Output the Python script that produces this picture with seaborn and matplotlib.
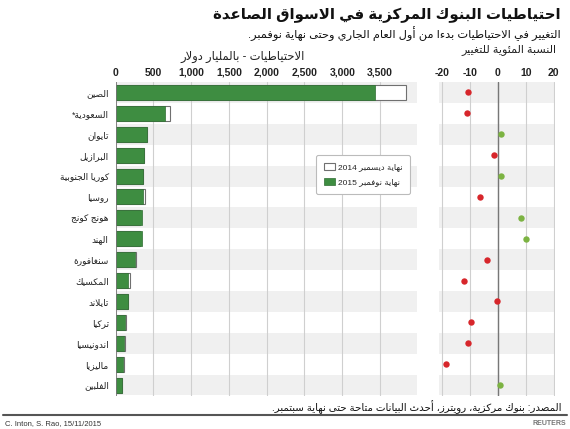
import re
import matplotlib
matplotlib.use('Agg')
import matplotlib.pyplot as plt
from matplotlib.lines import Line2D
import seaborn as sns
import pandas as pd

# ---------------- data ----------------
countries = ['الصين', 'السعودية*', 'تايوان', 'البرازيل', 'كوريا الجنوبية', 'روسيا',
             'هونج كونج', 'الهند', 'سنغافورة', 'المكسيك', 'تايلاند', 'تركيا',
             'اندونيسيا', 'ماليزيا', 'الفلبين']
reserves_2014 = [3840, 725, 414, 377, 361, 390, 323, 320, 268, 191, 158, 138, 121, 115, 83]
reserves_2015 = [3430, 648, 420, 372, 366, 365, 350, 353, 258, 168, 157, 125, 108, 94, 84]
pct_change = [-10.6, -11.0, 1.3, -1.4, 1.3, -6.3, 8.2, 10.1, -3.9, -11.9, -0.4, -9.6, -10.5, -18.6, 0.8]
bar_ticks = [0, 500, 1000, 1500, 2000, 2500, 3000, 3500]
pct_ticks = [-20, -10, 0, 10, 20]

title = 'احتياطيات البنوك المركزية في الاسواق الصاعدة'
subtitle = 'التغيير في الاحتياطيات بدءا من أول العام الجاري وحتى نهاية نوفمبر.'
left_label = 'الاحتياطيات - بالمليار دولار'
right_label = 'النسبة المئوية للتغيير'
legend_2014 = 'نهاية ديسمبر 2014'
legend_2015 = 'نهاية نوفمبر 2015'
source = 'المصدر: بنوك مركزية، رويترز، أحدث البيانات متاحة حتى نهاية سبتمبر.'
credit = 'C. Inton, S. Rao, 15/11/2015'

# ------------- Arabic shaping for display -------------
DUAL = {'ئ': 0xFE89, 'ب': 0xFE8F, 'ت': 0xFE95, 'ث': 0xFE99, 'ج': 0xFE9D, 'ح': 0xFEA1,
        'خ': 0xFEA5, 'س': 0xFEB1, 'ش': 0xFEB5, 'ص': 0xFEB9, 'ض': 0xFEBD, 'ط': 0xFEC1,
        'ظ': 0xFEC5, 'ع': 0xFEC9, 'غ': 0xFECD, 'ف': 0xFED1, 'ق': 0xFED5, 'ك': 0xFED9,
        'ل': 0xFEDD, 'م': 0xFEE1, 'ن': 0xFEE5, 'ه': 0xFEE9, 'ي': 0xFEF1}
RIGHT = {'آ': 0xFE81, 'أ': 0xFE83, 'ؤ': 0xFE85, 'إ': 0xFE87, 'ا': 0xFE8D, 'ة': 0xFE93,
         'د': 0xFEA9, 'ذ': 0xFEAB, 'ر': 0xFEAD, 'ز': 0xFEAF, 'و': 0xFEED, 'ى': 0xFEEF}
LAM_ALEF = {'آ': 0xFEF5, 'أ': 0xFEF7, 'إ': 0xFEF9, 'ا': 0xFEFB}


def ar(text):
    units = []
    i = 0
    while i < len(text):
        c = text[i]
        if c == 'ل' and i + 1 < len(text) and text[i + 1] in LAM_ALEF:
            units.append(('LA', text[i + 1]))
            i += 2
            continue
        units.append(('C', c))
        i += 1

    def jn(u):
        return u[0] == 'C' and u[1] in DUAL

    def jp(u):
        return u[0] == 'LA' or u[1] in DUAL or u[1] in RIGHT

    out = []
    for k, u in enumerate(units):
        prev = k > 0 and jn(units[k - 1]) and jp(u)
        nxt = k + 1 < len(units) and jn(u) and jp(units[k + 1])
        if u[0] == 'LA':
            out.append(chr(LAM_ALEF[u[1]] + (1 if prev else 0)))
        elif u[1] in DUAL:
            off = 3 if (prev and nxt) else 2 if nxt else 1 if prev else 0
            out.append(chr(DUAL[u[1]] + off))
        elif u[1] in RIGHT:
            out.append(chr(RIGHT[u[1]] + (1 if prev else 0)))
        elif u[1] == 'ء':
            out.append('\uFE80')
        else:
            out.append(u[1])
    s = ''.join(out)
    tokens = re.findall(r'[0-9A-Za-z](?:[0-9A-Za-z.,/]*[0-9A-Za-z])?|.', s)
    return ''.join(reversed(tokens))


# ---------------- style ----------------
sns.set_theme(style='white')
plt.rcParams['font.family'] = ['Liberation Sans', 'DejaVu Sans']

df = pd.DataFrame({
    'country': countries,
    'r14': reserves_2014,
    'r15': reserves_2015,
    'pct': pct_change,
})
df['dir'] = ['up' if p >= 0 else 'down' for p in df['pct']]

W, H = 570, 429
fig = plt.figure(figsize=(W / 100, H / 100), dpi=100)
ax1 = fig.add_axes([115.7 / W, 1 - 395.5 / H, (417 - 115.7) / W, (395.5 - 82) / H])
ax2 = fig.add_axes([439 / W, 1 - 395.5 / H, (555 - 439) / W, (395.5 - 82) / H])

GREEN = '#3e8d41'
for ax in (ax1, ax2):
    for i in range(0, len(countries), 2):
        ax.axhspan(i - 0.5, i + 0.5, color='#f0f0f0', zorder=0, lw=0)

sns.barplot(data=df, x='r14', y='country', orient='h', color='white', edgecolor='#707070',
            linewidth=0.8, width=0.72, saturation=1, ax=ax1, label=ar(legend_2014), zorder=2)
sns.barplot(data=df, x='r15', y='country', orient='h', color=GREEN, edgecolor='#2f6d32',
            linewidth=0.5, width=0.72, saturation=1, ax=ax1, label=ar(legend_2015), zorder=3)

sns.stripplot(data=df, x='pct', y='country', orient='h', hue='dir',
              palette={'down': '#d7262b', 'up': '#7cb342'}, jitter=False, size=4.6,
              linewidth=0, legend=False, ax=ax2, zorder=4)

ax1.set_xlim(0, 3990)
ax2.set_xlim(-21, 20.5)
for ax in (ax1, ax2):
    ax.set_ylim(len(countries) - 0.5, -0.5)
    ax.set_xlabel('')
    ax.set_ylabel('')
    ax.set_axisbelow(True)
    ax.xaxis.grid(True, color='#cfcfcf', lw=0.8)
    ax.yaxis.grid(False)
    for sp in ax.spines.values():
        sp.set_visible(False)
    ax.xaxis.tick_top()
    ax.tick_params(axis='x', length=0, pad=3, labelsize=7.5, labelcolor='#222222')
    ax.tick_params(axis='y', length=0)
    ax.set_facecolor('none')

ax1.set_xticks(bar_ticks)
ax1.set_xticklabels([f'{t:,}' for t in bar_ticks], fontweight='bold')
ax1.set_yticks(range(len(countries)))
ax1.set_yticklabels([ar(c) for c in countries], fontsize=6.5, color='#222222')
ax1.tick_params(axis='y', pad=5)
ax1.axvline(0, color='#777777', lw=1.2, zorder=5)

ax2.set_xticks(pct_ticks)
ax2.set_xticklabels([str(t) for t in pct_ticks], fontweight='bold')
ax2.set_yticks([])
ax2.axvline(0, color='#777777', lw=1.0, zorder=3)

leg = ax1.legend(loc='upper right', bbox_to_anchor=(0.977, 0.767), fontsize=6.0,
                 frameon=True, fancybox=True, edgecolor='#bbbbbb', framealpha=1,
                 handlelength=1.3, handleheight=1.0, borderpad=0.9, labelspacing=0.8,
                 handletextpad=0.4, borderaxespad=0)
leg.get_frame().set_linewidth(0.8)

# ---------------- texts ----------------
fig.text(561 / W, 1 - 15 / H, ar(title), ha='right', va='center', fontsize=10.8,
         fontweight='bold', color='#111111')
fig.text(561 / W, 1 - 34 / H, ar(subtitle), ha='right', va='center', fontsize=8.2,
         color='#111111')
fig.text(305 / W, 1 - 57 / H, ar(left_label), ha='right', va='center', fontsize=8.3,
         color='#222222')
fig.text(556 / W, 1 - 50 / H, ar(right_label), ha='right', va='center', fontsize=8,
         color='#222222')
fig.text(561 / W, 1 - 407 / H, ar(source), ha='right', va='center', fontsize=7.4,
         color='#111111')
fig.add_artist(Line2D([3 / W, 567 / W], [1 - 415 / H] * 2, color='#555555', lw=1.5))
fig.text(5 / W, 1 - 423.5 / H, credit, ha='left', va='center', fontsize=5.5, color='#333333')
fig.text(566 / W, 1 - 423.5 / H, 'REUTERS', ha='right', va='center', fontsize=5,
         fontweight='bold', color='#777777')

fig.savefig('out.png', dpi=100)
